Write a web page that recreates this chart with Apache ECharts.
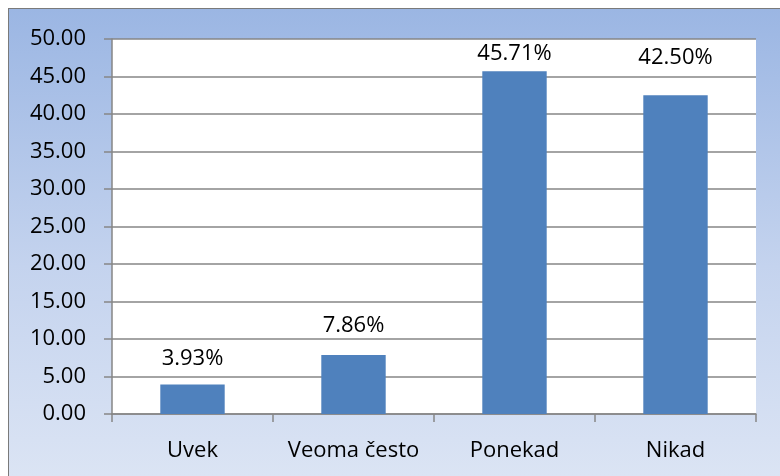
<!DOCTYPE html>
<html>
<head>
<meta charset="utf-8">
<script src="https://cdn.jsdelivr.net/npm/echarts@6/dist/echarts.min.js"></script>
<style>
    html, body { margin: 0; padding: 0; background: #fff; }
    #wrap { position: relative; width: 780px; height: 476px; overflow: hidden; background: #fff; }
    #chart {
        position: absolute; left: 9px; top: 9px; width: 771px; height: 467px;
        border-top: 1px solid #7a7a7a; border-left: 1px solid #7a7a7a;
        margin-left: -1px; margin-top: -1px;
        background: linear-gradient(to bottom, #9bb6e3 0%, #c4d3ee 55%, #dbe4f4 100%);
    }
</style>
</head>
<body>
<div id="wrap"><div id="chart"></div></div>
<script>
const categories = ['Uvek', 'Veoma često', 'Ponekad', 'Nikad'];
const values = [3.93, 7.86, 45.71, 42.50];
const yMin = 0;
const yMax = 50;
const yStep = 5;

// label gap above each bar (px), as placed in the original
const labelGap = [15, 18, 6, 27];

const font = '"Open Sans", "Noto Sans", sans-serif';
const gray = '#868686';

const myChart = echarts.init(document.getElementById('chart'), null, { renderer: 'canvas' });

const option = {
    backgroundColor: 'transparent',
    animation: false,
    grid: {
        left: 103,
        right: 24,
        top: 30,
        bottom: 62,
        show: true,
        backgroundColor: '#ffffff',
        borderWidth: 0
    },
    xAxis: {
        type: 'category',
        data: categories,
        axisLine: { show: true, lineStyle: { color: gray, width: 1.5 } },
        axisTick: { show: true, length: 8, lineStyle: { color: gray, width: 1.5 } },
        axisLabel: { color: '#000', fontFamily: font, fontSize: 22, margin: 26, interval: 0 }
    },
    yAxis: {
        type: 'value',
        min: yMin,
        max: yMax,
        interval: yStep,
        axisLine: { show: true, lineStyle: { color: gray, width: 1.5 } },
        axisTick: { show: true, length: 8, lineStyle: { color: gray, width: 1.5 } },
        splitLine: { show: true, lineStyle: { color: gray, width: 1.5 } },
        axisLabel: {
            color: '#000', fontFamily: font, fontSize: 22, margin: 26,
            formatter: (v) => v.toFixed(2)
        }
    },
    series: [{
        type: 'bar',
        data: values.map((v, i) => ({ value: v, label: { distance: labelGap[i] } })),
        barWidth: '40%',
        itemStyle: { color: '#4f81bd' },
        label: {
            show: true,
            position: 'top',
            color: '#000',
            fontFamily: font,
            fontSize: 22,
            formatter: (p) => p.value.toFixed(2) + '%'
        }
    }]
};

myChart.setOption(option);
</script>
</body>
</html>
